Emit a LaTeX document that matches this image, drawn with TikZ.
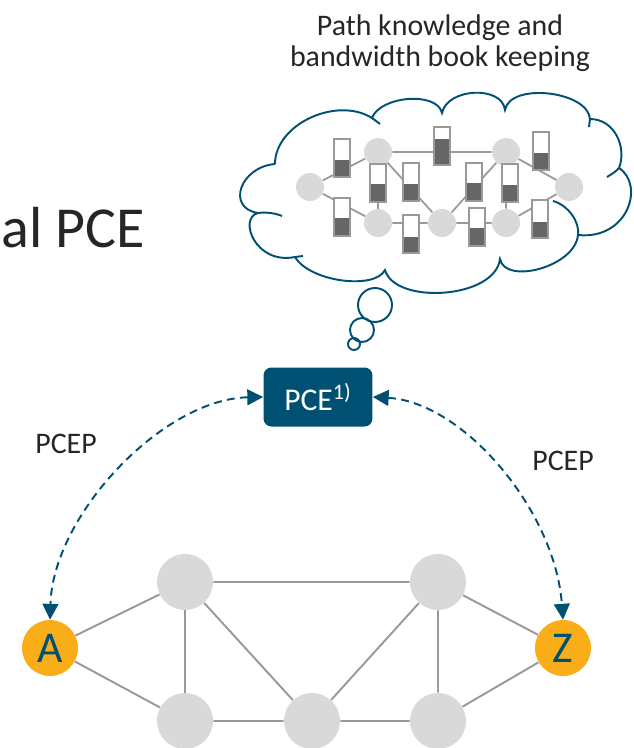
\documentclass[tikz,border=0pt]{standalone}
\usepackage{fontspec}
\setmainfont{Carlito}
\usepackage{tikz}
\usetikzlibrary{arrows.meta}

\definecolor{pceblue}{RGB}{0,80,115}
\definecolor{pceorange}{RGB}{249,173,25}
\definecolor{nodegray}{RGB}{217,217,217}
\definecolor{linegray}{RGB}{153,153,153}
\definecolor{bargray}{RGB}{102,102,102}
\definecolor{textgray}{RGB}{38,38,38}

\begin{document}
\begin{tikzpicture}[
    x = 0.02cm,
    y = -0.02cm,
    >={Triangle[length=9pt,width=9pt]},
    router/.style = {
      circle,
      fill = nodegray,
      inner sep = 0pt,
      minimum size = 1.12cm},
    endpoint/.style = {
      router,
      fill = pceorange,
      text = pceblue,
      font = \fontsize{25}{25}\selectfont},
    minirouter/.style = {
      router,
      minimum size = 0.56cm},
    link/.style = {draw = linegray, line width = 1.1pt},
    minilink/.style = {draw = linegray, line width = 1pt},
    cloudline/.style = {draw = pceblue, line width = 1.1pt},
    bubble/.style = {
      circle,
      cloudline,
      inner sep = 0pt},
    pcep/.style = {
      <->,
      draw = pceblue,
      line width = 1.1pt,
      dash pattern = on 4.5pt off 3pt},
    lbl/.style = {text = textgray, font = \fontsize{17}{17.5}\selectfont}
  ]
  % usage gauge on a link: x, y, filled height
  \def\gauge#1#2#3{%
    \filldraw[fill=white, draw=linegray, line width=1.1pt] (#1-8,#2-19) rectangle (#1+8,#2+19);
    \fill[bargray] (#1-7,#2+18) rectangle (#1+7,#2+18-#3);}

  \useasboundingbox (0,0) rectangle (634,748);

  \node[anchor=base west, inner sep=0pt, text=textgray, font=\fontsize{33}{38}\selectfont] (title) at (1,247) {al PCE};

  % The thought cloud, bump by bump
  \draw[cloudline] (275,164)
    .. controls (275,124) and (337,96) .. (372,118)
    .. controls (380,96) and (437,91) .. (442,113)
    .. controls (447,88) and (502,85) .. (505,110)
    .. controls (510,82) and (588,91) .. (590,119)
    .. controls (615,119) and (627,148) .. (619,168)
    .. controls (645,185) and (628,240) .. (578,235)
    .. controls (575,267) and (505,285) .. (500,259)
    .. controls (495,299) and (395,305) .. (385,270)
    .. controls (375,290) and (310,282) .. (295,257)
    .. controls (255,265) and (238,218) .. (258,213)
    .. controls (226,208) and (240,167) .. (275,164);
  % little inner ends of the bumps
  \draw[cloudline] (372,118) -- (380,124);
  \draw[cloudline] (590,119) -- (589,127);
  \draw[cloudline] (619,168) .. controls (615,172) .. (607,177);
  \draw[cloudline] (578,235) .. controls (580,222) and (568,205) .. (553,201);
  \draw[cloudline] (295,257) -- (303,256);
  \draw[cloudline] (258,213) .. controls (266,212) and (275,213) .. (282,216);

  \node[bubble, minimum size=0.68cm] (bubbleL) at (375,305) {};
  \node[bubble, minimum size=0.48cm] (bubbleM) at (362,330) {};
  \node[bubble, minimum size=0.24cm] (bubbleS) at (354,344) {};

  \node[lbl, align=center] (caption) at (440,43) {Path knowledge and\\bandwidth book keeping};

  % Network as the PCE sees it
  \node[minirouter] (m1) at (310,187) {};
  \node[minirouter] (m2) at (378,152) {};
  \node[minirouter] (m3) at (506,152) {};
  \node[minirouter] (m4) at (569,187) {};
  \node[minirouter] (m5) at (378,223) {};
  \node[minirouter] (m6) at (442,223) {};
  \node[minirouter] (m7) at (506,223) {};
  \draw[minilink] (m1) -- (m2) -- (m3) -- (m4) -- (m7) -- (m6) -- (m5) -- (m1);
  \draw[minilink] (m2) -- (m5);
  \draw[minilink] (m2) -- (m6) -- (m3) -- (m7);

  \gauge{342}{158}{16}
  \gauge{442}{146}{25}
  \gauge{541}{151}{16}
  \gauge{378}{183}{17}
  \gauge{411}{182}{16}
  \gauge{474}{182}{17}
  \gauge{510}{183}{16}
  \gauge{342}{217}{17}
  \gauge{411}{234}{15}
  \gauge{477}{227}{17}
  \gauge{540}{219}{15}

  % PCE
  \node[fill=pceblue, rounded corners=4.5pt, text=white, inner sep=0pt,
        minimum width=2.18cm, minimum height=1.18cm,
        font=\fontsize{18}{18}\selectfont] (pce) at (318,397) {PCE\textsuperscript{1)}};

  % Real network
  \node[endpoint] (A) at (50,648) {A};
  \node[router] (r1) at (185,582) {};
  \node[router] (r2) at (438,582) {};
  \node[endpoint] (Z) at (563,648) {Z};
  \node[router] (r3) at (185,721) {};
  \node[router] (r4) at (312,721) {};
  \node[router] (r5) at (438,721) {};
  \draw[link] (A) -- (r1) -- (r2) -- (Z) -- (r5) -- (r4) -- (r3) -- (A);
  \draw[link] (r1) -- (r3);
  \draw[link] (r1) -- (r4) -- (r2) -- (r5);

  % PCEP sessions
  \draw[pcep] (pce.west) .. controls +(-100,2) and +(3,-105) .. (A.north);
  \draw[pcep] (pce.east) .. controls +(90,5) and +(-8,-110) .. (Z.north);
  \node[lbl] (pcepA) at (66,444) {PCEP};
  \node[lbl] (pcepZ) at (563,461) {PCEP};

\end{tikzpicture}
\end{document}
